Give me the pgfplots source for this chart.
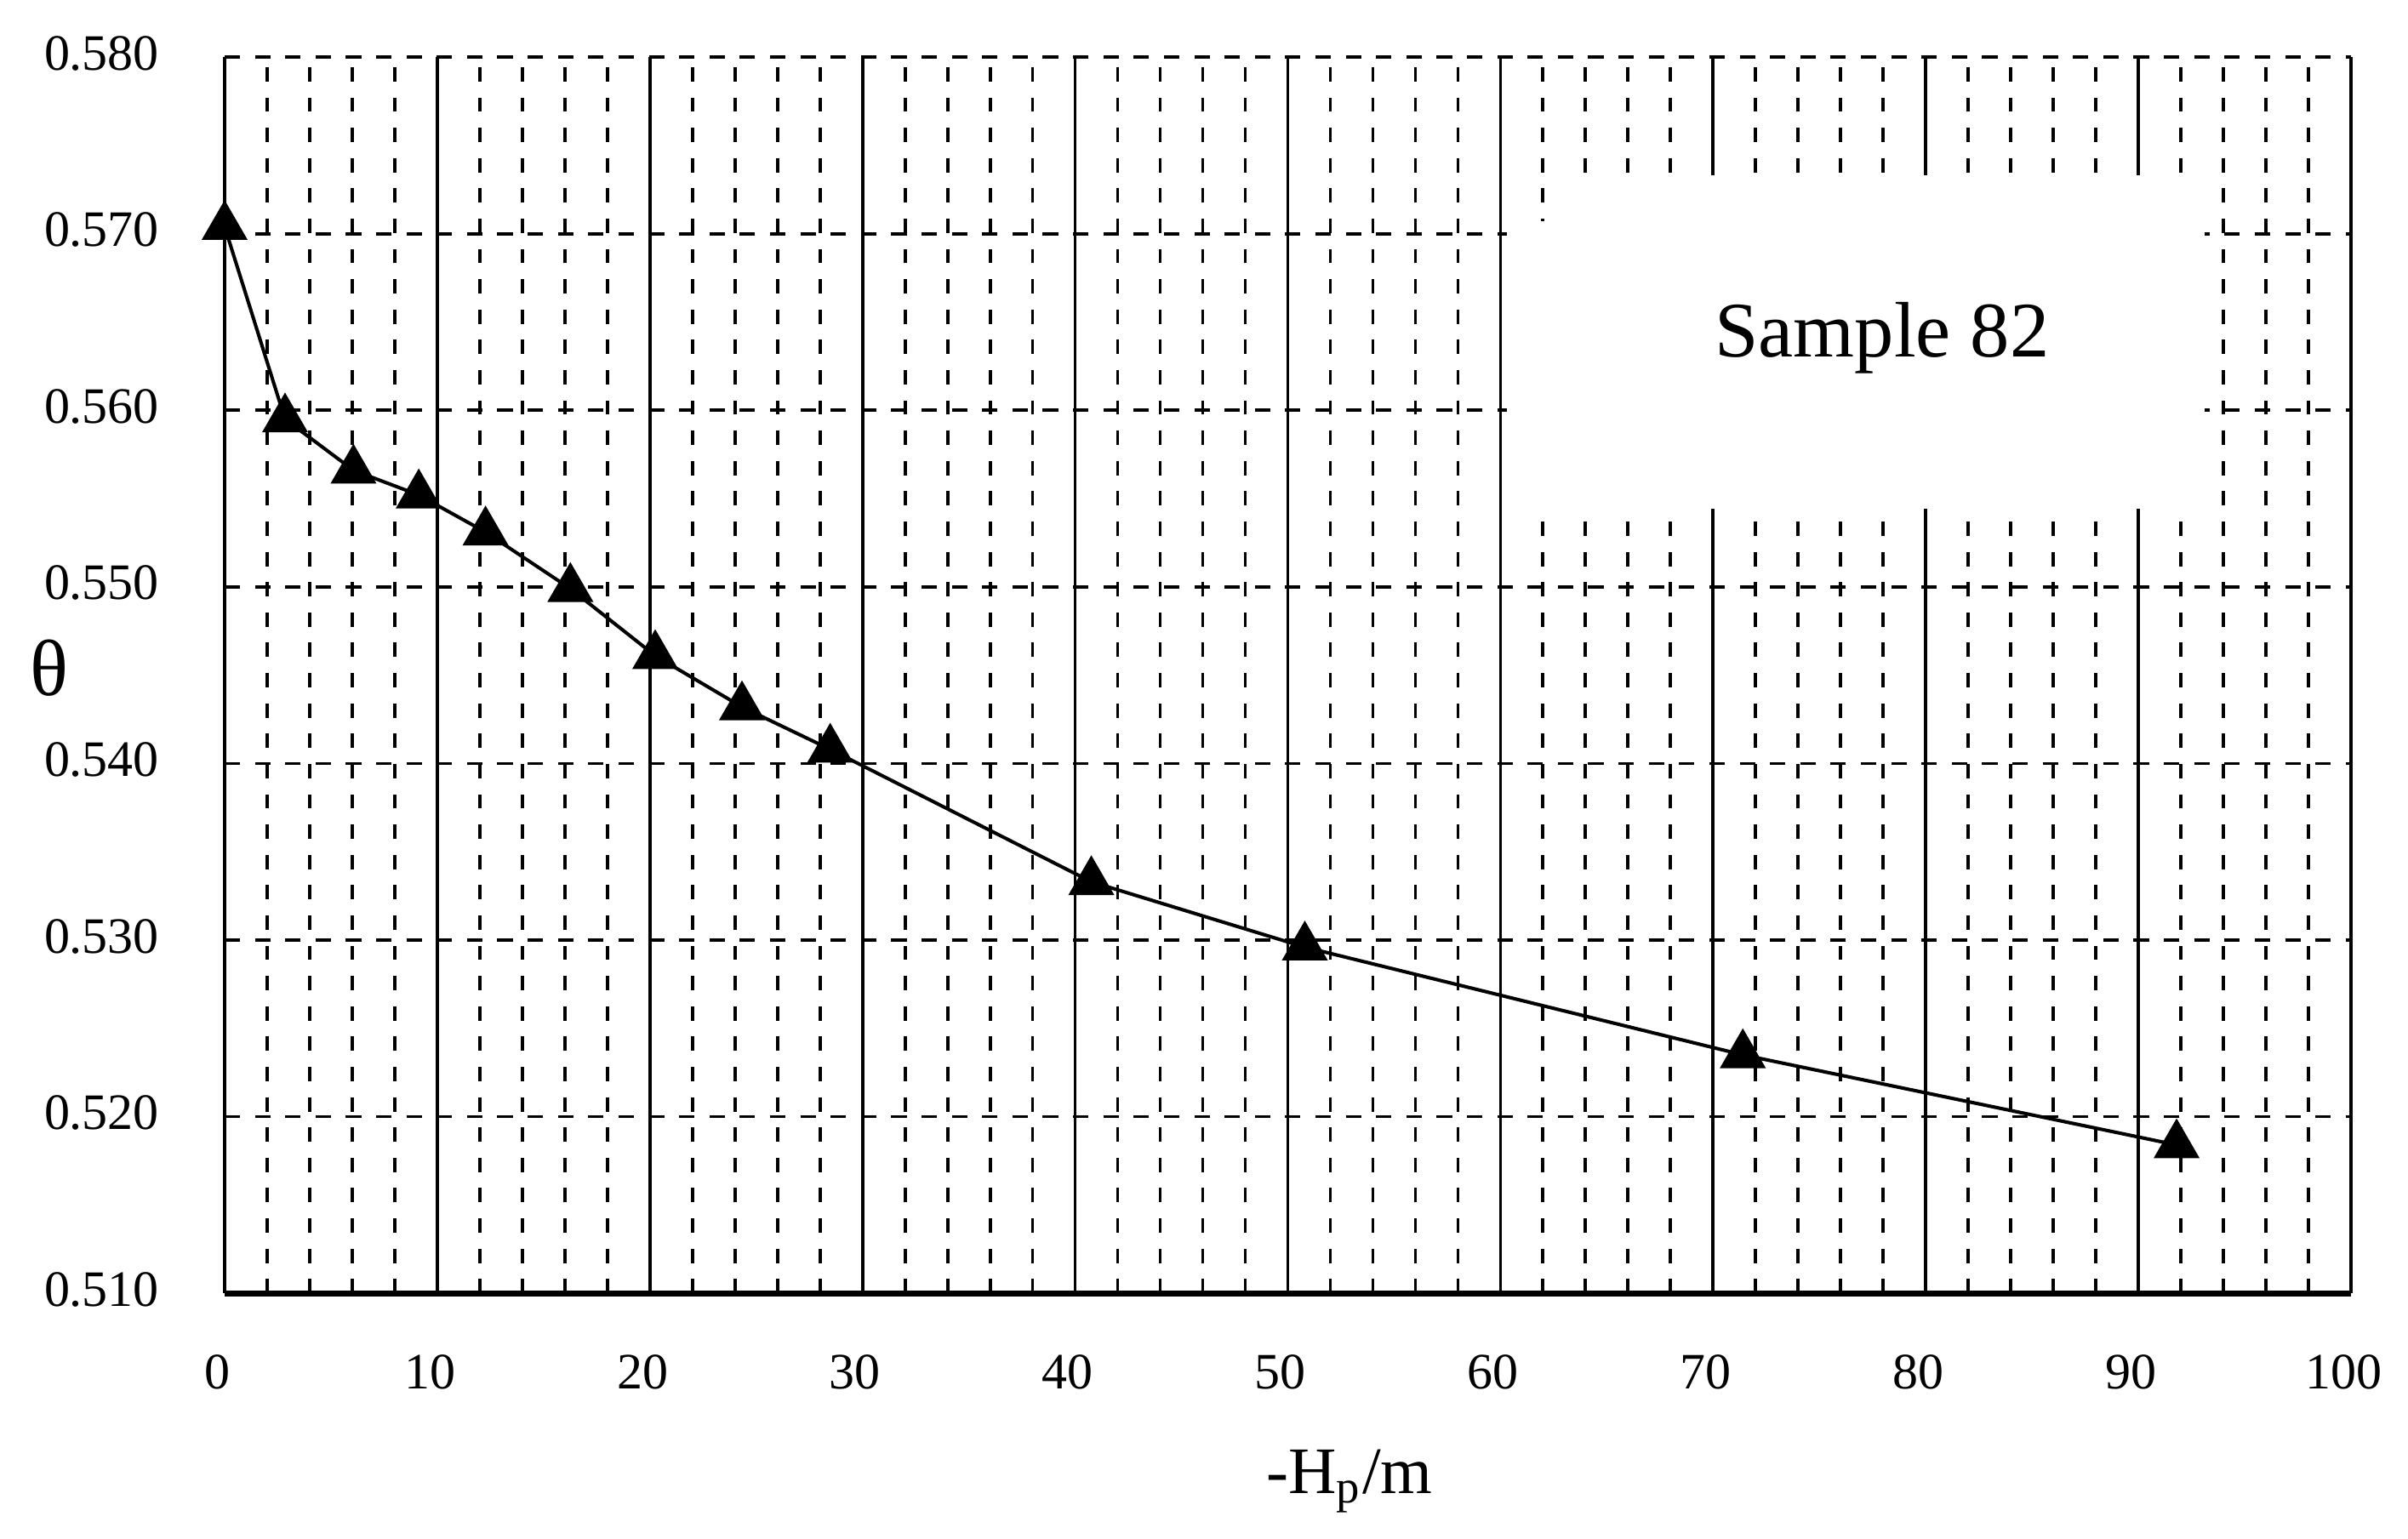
\documentclass[border=0pt]{standalone}
\usepackage{fontspec}
\setmainfont{Liberation Serif}
\usepackage{pgfplots}
\pgfplotsset{compat=1.18}

\begin{document}
\begin{tikzpicture}
\begin{axis}[
  scale only axis,
  width=400pt, height=232.6pt,
  xmin=0, xmax=100, ymin=0.51, ymax=0.58,
  clip=false,
  axis x line=bottom, axis y line=left,
  axis line style={-, line width=0.6pt},
  x axis line style={line width=1.1pt},
  xtick={0,10,...,100},
  ytick={0.51,0.52,0.53,0.54,0.55,0.56,0.57,0.58},
  minor x tick num=4,
  major tick length=0pt, minor tick length=0pt,
  xmajorgrids, xminorgrids, ymajorgrids,
  major x grid style={solid, black, line width=0.6pt},
  minor x grid style={black, line width=0.6pt, dash pattern=on 2.7pt off 3pt},
  major y grid style={black, line width=0.6pt, dash pattern=on 2.9pt off 2.8pt},
  scaled y ticks=false,
  /pgf/number format/assume math mode=true,
  yticklabel style={/pgf/number format/fixed, /pgf/number format/fixed zerofill,
    /pgf/number format/precision=3,
    font=\fontsize{9.6}{11}\selectfont, xshift=-8.8pt, yshift=0.7pt},
  xticklabel style={font=\fontsize{9.6}{11}\selectfont, xshift=-1.4pt, yshift=-8.1pt},
]
% white box behind the label
\fill[white] (axis cs:60.3,0.5544) rectangle (axis cs:93.1,0.5707);
\fill[white] (axis cs:62.6,0.5706) rectangle (axis cs:93.1,0.5733);

\addplot[black, line width=0.65pt, mark=triangle*, mark size=4.6pt,
  mark options={solid, fill=black, line width=0.4pt}] coordinates {
  (0,0.5704)
  (2.84,0.5595)
  (6.06,0.5566)
  (9.13,0.5552)
  (12.27,0.5531)
  (16.26,0.5499)
  (20.25,0.5461)
  (24.33,0.5432)
  (28.48,0.5408)
  (40.76,0.5333)
  (50.8,0.5296)
  (71.4,0.5235)
  (91.8,0.5184)
};

\node[anchor=base, font=\fontsize{14.8}{17}\selectfont] at (axis cs:77.95,0.5630) {Sample 82};
\node[anchor=base, yshift=-37.6pt, font=\fontsize{12.5}{15}\selectfont]
  at (rel axis cs:0.529,0) {-H\textsubscript{p}/m};
\node[xshift=-33pt, yshift=1.3pt, font=\fontsize{15}{18}\selectfont]
  at (rel axis cs:0,0.5) {θ};
\end{axis}
\pgfresetboundingbox
\path (-42.26pt,-46.1pt) rectangle (410.73pt,243.33pt);
\end{tikzpicture}
\end{document}
